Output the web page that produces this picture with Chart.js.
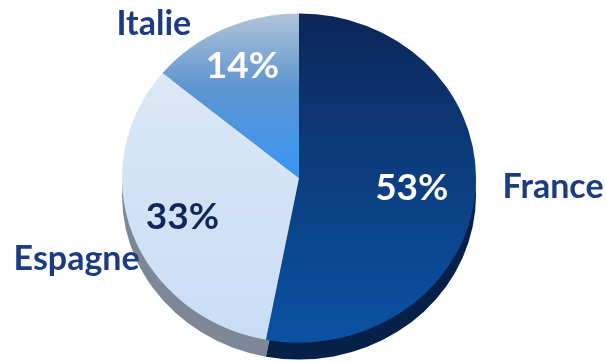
<!DOCTYPE html>
<html>
<head>
<meta charset="utf-8">
<script src="https://cdn.jsdelivr.net/npm/chart.js@4.4.1/dist/chart.umd.min.js"></script>
<style>
  html, body { margin: 0; padding: 0; background: #fff; }
  canvas { display: block; }
</style>
</head>
<body>
<canvas id="pays" width="606" height="363"></canvas>
<script>
"use strict";

// data
const pays = ['France', 'Espagne', 'Italie'];
const parts = [53, 33, 14];

// look
const squash = 0.93;
const rimDepth = 17;
const rimColors = ['#06204a', '#7d8796', '#5d7390'];
const pctColors = ['#ffffff', '#12285a', '#ffffff'];
const pctRadius = [0.64, 0.7, 0.75];
// label spots relative to the pie centre, in radii
const labelSpots = [
  { x: 1.15, y: 0.05, align: 'left' },
  { x: -0.9, y: 0.46, align: 'right' },
  { x: -0.82, y: -0.87, align: 'center' }
];

function sliceFill(context) {
  const chart = context.chart;
  const area = chart.chartArea;
  if (!area) return '#0c3f82';
  const c = chart.ctx;
  const i = context.dataIndex;
  let g;
  if (i === 0) {
    g = c.createLinearGradient(0, area.top, 0, area.bottom);
    g.addColorStop(0, '#0c2659');
    g.addColorStop(0.5, '#0c3e80');
    g.addColorStop(1, '#0a52a3');
  } else if (i === 1) {
    g = c.createLinearGradient(0, area.top, 0, area.bottom);
    g.addColorStop(0, '#dfeaf7');
    g.addColorStop(1, '#c8ddf5');
  } else {
    const mid = (area.top + area.bottom) / 2;
    g = c.createLinearGradient(0, area.top, 0, mid);
    g.addColorStop(0, '#b0c4d8');
    g.addColorStop(0.45, '#5d95d0');
    g.addColorStop(1, '#3895f5');
  }
  return g;
}

const tilt = {
  id: 'tilt',
  beforeDatasetsDraw(chart) {
    const c = chart.ctx;
    const arcs = chart.getDatasetMeta(0).data;
    const cx = arcs[0].x, cy = arcs[0].y;
    c.save();
    c.translate(cx, cy);
    c.scale(1, squash);
    c.translate(-cx, -cy);
    // rim under the pie
    arcs.forEach((arc, i) => {
      c.save();
      c.translate(0, rimDepth / squash);
      c.fillStyle = rimColors[i];
      c.beginPath();
      c.moveTo(arc.x, arc.y);
      c.arc(arc.x, arc.y, arc.outerRadius, arc.startAngle, arc.endAngle);
      c.closePath();
      c.fill();
      c.restore();
    });
  },
  afterDatasetsDraw(chart) {
    chart.ctx.restore();
  },
  afterDraw(chart) {
    const c = chart.ctx;
    const arcs = chart.getDatasetMeta(0).data;
    c.save();
    c.textBaseline = 'middle';
    arcs.forEach((arc, i) => {
      const r = arc.outerRadius;
      const mid = (arc.startAngle + arc.endAngle) / 2;
      const px = arc.x + Math.cos(mid) * r * pctRadius[i];
      const py = arc.y + Math.sin(mid) * r * pctRadius[i] * squash;
      c.font = 'bold 37px Lato';
      c.textAlign = 'center';
      c.fillStyle = pctColors[i];
      c.fillText(parts[i] + '%', px, py);

      const s = labelSpots[i];
      c.font = 'bold 34px Lato';
      c.textAlign = s.align;
      c.fillStyle = '#1c3c82';
      c.fillText(pays[i], arc.x + s.x * r, arc.y + s.y * r);
    });
    c.restore();
  }
};

new Chart(document.getElementById('pays'), {
  type: 'pie',
  data: {
    labels: pays,
    datasets: [{
      data: parts,
      backgroundColor: sliceFill,
      borderWidth: 0
    }]
  },
  options: {
    responsive: false,
    animation: false,
    layout: { padding: { top: 1, bottom: 8, left: 122, right: 130 } },
    plugins: {
      legend: { display: false },
      tooltip: { enabled: false }
    }
  },
  plugins: [tilt]
});
</script>
</body>
</html>
